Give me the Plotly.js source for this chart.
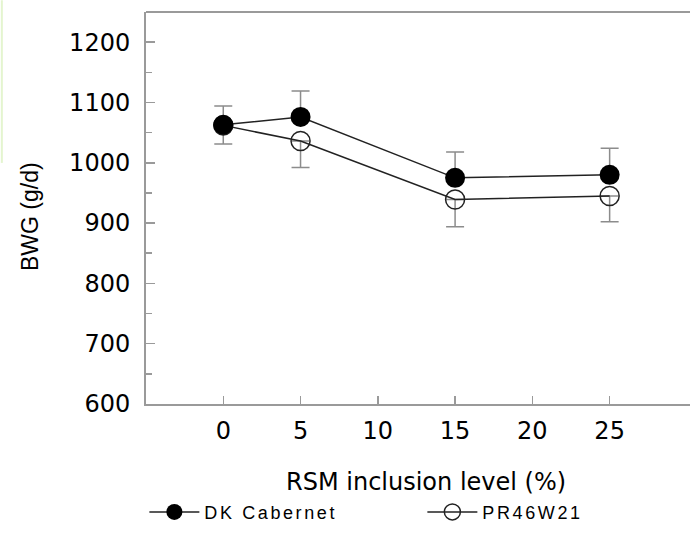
<!DOCTYPE html>
<html>
<head>
<meta charset="utf-8">
<script src="https://cdn.plot.ly/plotly-3.0.1.min.js"></script>
<style>
  html, body { margin: 0; padding: 0; background: #fff; }
  #chart { width: 690px; height: 535px; }
  .legendtext { letter-spacing: 2.6px; }
</style>
</head>
<body>
<div id="chart"></div>
<script>
// RSM inclusion level (%)
const levels = [0, 5, 15, 25];
// BWG (g/d)
const dkCabernet = [1063, 1076, 975, 980];
const dkErrUp = [31, 43, 43, 44];
const pr46w21 = [1062, 1036, 939, 945];
const prErrDown = [31, 44, 45, 43];
const seriesNames = ['DK Cabernet', 'PR46W21'];
const yTicks = [600, 700, 800, 900, 1000, 1100, 1200];
const xTicks = [0, 5, 10, 15, 20, 25];
const xTitle = 'RSM inclusion level (%)';
const yTitle = 'BWG (g/d)';

const zeros = levels.map(() => 0);
const wide = 'DejaVu Sans, Verdana, sans-serif';
const font = 'Liberation Sans, Arial, Helvetica, sans-serif';

const traces = [
  {
    x: levels, y: pr46w21, name: seriesNames[1], type: 'scatter', mode: 'lines+markers',
    line: { color: '#222', width: 1.5 },
    marker: { symbol: 'circle-open', size: 19, color: '#222', line: { width: 1.5, color: '#222' } },
    error_y: { type: 'data', symmetric: false, array: zeros, arrayminus: prErrDown,
               color: '#8c8c8c', thickness: 1.5, width: 9 }
  },
  {
    x: levels, y: dkCabernet, name: seriesNames[0], type: 'scatter', mode: 'lines+markers',
    line: { color: '#222', width: 1.5 },
    marker: { symbol: 'circle', size: 20, color: '#000' },
    error_y: { type: 'data', symmetric: false, array: dkErrUp, arrayminus: zeros,
               color: '#8c8c8c', thickness: 1.5, width: 9 }
  }
];

const layout = {
  width: 690, height: 535,
  margin: { l: 146, r: 0, t: 12, b: 131, autoexpand: false },
  paper_bgcolor: '#fff', plot_bgcolor: '#fff',
  font: { family: wide, color: '#000', size: 24 },
  showlegend: true,
  legend: {
    orientation: 'h', traceorder: 'reversed',
    x: -0.003, xanchor: 'left', y: -0.276, yanchor: 'middle',
    font: { family: font, size: 18, color: '#000' },
    itemwidth: 50,
    entrywidth: 213, entrywidthmode: 'pixels',
    bgcolor: 'rgba(0,0,0,0)'
  },
  xaxis: {
    range: [-5, 30.2], tickvals: xTicks, ticktext: xTicks.map(String),
    ticks: 'inside', ticklen: 8, tickwidth: 1.5, tickcolor: '#9a9a9a',
    showline: true, linecolor: '#9a9a9a', linewidth: 2,
    showgrid: false, zeroline: false,
    ticklabelstandoff: 4,
    tickfont: { family: wide, size: 24, color: '#000' }
  },
  yaxis: {
    range: [600, 1250], tickvals: yTicks, ticktext: yTicks.map(String),
    ticks: 'inside', ticklen: 9, tickwidth: 1.5, tickcolor: '#9a9a9a',
    minor: { dtick: 50, ticks: 'inside', ticklen: 6, tickwidth: 1.5, tickcolor: '#9a9a9a' },
    showline: true, linecolor: '#9a9a9a', linewidth: 2,
    showgrid: false, zeroline: false,
    ticklabelstandoff: 9,
    tickfont: { family: wide, size: 24, color: '#000' }
  },
  annotations: [
    { text: xTitle, xref: 'paper', yref: 'paper', x: (426 - 146) / 544, y: (404 - 482) / 392,
      xanchor: 'center', yanchor: 'middle', showarrow: false,
      font: { family: wide, size: 24, color: '#000' } },
    { text: yTitle, xref: 'paper', yref: 'paper', x: (30 - 146) / 544, y: (404 - 217) / 392,
      xanchor: 'center', yanchor: 'middle', showarrow: false, textangle: -90,
      font: { family: font, size: 23, color: '#000' } }
  ],
  shapes: [
    { type: 'line', xref: 'paper', yref: 'paper', x0: 0, x1: 1, y0: 1, y1: 1,
      line: { color: '#9a9a9a', width: 2 } },
    { type: 'line', xref: 'paper', yref: 'paper', x0: -0.265, x1: -0.265, y0: 1.03, y1: 0.615,
      line: { color: '#e4f5cf', width: 2 } }
  ]
};

Plotly.newPlot('chart', traces, layout, { displayModeBar: false, staticPlot: true });
</script>
</body>
</html>
